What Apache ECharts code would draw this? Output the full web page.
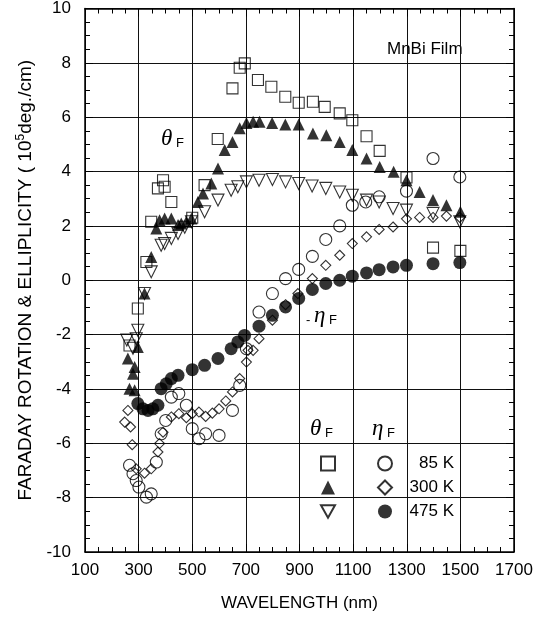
<!DOCTYPE html>
<html>
<head>
<meta charset="utf-8">
<title>MnBi Film Faraday</title>
<script src="https://cdn.jsdelivr.net/npm/echarts@6/dist/echarts.min.js"></script>
</head>
<body style="margin:0">
<div id="chart" style="width:549px;height:623px;"></div>
<script>
// theta_F (rotation), [wavelength nm, 1e5 deg/cm]
var theta85 = [[266,-2.4],[297,-1.04],[329,0.67],[347,2.15],[372,3.38],[391,3.68],[397,3.44],[422,2.88],[500,2.3],[546,3.5],[595,5.2],[650,7.06],[677,7.82],[696,7.98],[745,7.37],[795,7.12],[847,6.75],[897,6.53],[950,6.57],[994,6.38],[1050,6.14],[1097,5.89],[1150,5.3],[1199,4.76],[1299,3.78],[1398,1.2],[1500,1.08]];
var theta300 = [[260,-2.88],[266,-3.99],[279,-3.44],[285,-3.19],[285,-4.05],[297,-2.46],[322,-0.49],[347,0.86],[366,1.9],[378,2.21],[397,2.27],[422,2.27],[447,2.03],[459,2.09],[478,2.15],[497,2.27],[521,2.88],[540,3.19],[571,3.56],[596,4.11],[621,4.79],[650,5.09],[677,5.59],[702,5.79],[727,5.83],[751,5.83],[798,5.79],[847,5.73],[897,5.73],[950,5.4],[1000,5.34],[1050,5.09],[1097,4.79],[1150,4.48],[1199,4.17],[1251,3.99],[1299,3.68],[1348,3.25],[1398,2.95],[1448,2.76],[1500,2.52]];
var theta475 = [[256,-2.2],[279,-2.5],[291,-2.15],[297,-1.84],[322,-0.49],[347,0.31],[384,1.29],[397,1.35],[422,1.54],[447,1.72],[472,1.95],[497,2.15],[546,2.52],[596,2.95],[645,3.31],[670,3.44],[702,3.62],[749,3.68],[799,3.71],[848,3.62],[897,3.56],[947,3.47],[998,3.38],[1050,3.25],[1097,3.13],[1150,2.95],[1197,2.88],[1249,2.64],[1299,2.58],[1398,2.46],[1498,2.15]];
// eta_F (ellipticity); 475 K is plotted as -eta
var eta85 = [[266,-6.81],[279,-7.12],[291,-7.37],[301,-7.61],[329,-7.98],[347,-7.86],[366,-6.69],[384,-5.65],[401,-5.16],[422,-4.3],[450,-4.17],[478,-4.6],[500,-5.46],[525,-5.83],[550,-5.65],[600,-5.71],[650,-4.79],[677,-3.87],[702,-2.52],[749,-1.17],[799,-0.49],[848,0.06],[897,0.4],[948,0.88],[998,1.5],[1050,2.0],[1097,2.76],[1147,2.88],[1197,3.07],[1299,3.28],[1398,4.48],[1498,3.8]];
var eta300 = [[248,-5.22],[260,-4.79],[270,-5.4],[276,-6.05],[291,-6.94],[322,-7.1],[347,-6.94],[372,-6.32],[378,-6.01],[391,-5.59],[422,-5.03],[450,-4.91],[478,-5.06],[500,-4.91],[525,-4.85],[550,-5.01],[575,-4.89],[600,-4.73],[625,-4.44],[650,-4.11],[677,-3.62],[702,-3.01],[708,-2.58],[727,-2.58],[749,-2.15],[799,-1.47],[848,-0.9],[894,-0.49],[948,0.06],[998,0.55],[1050,0.92],[1097,1.35],[1150,1.6],[1197,1.87],[1249,1.96],[1299,2.26],[1348,2.31],[1398,2.31],[1448,2.36],[1498,2.31]];
var eta475 = [[297,-4.54],[316,-4.73],[335,-4.79],[353,-4.73],[372,-4.6],[384,-3.99],[403,-3.81],[422,-3.62],[447,-3.5],[500,-3.29],[546,-3.13],[596,-2.88],[645,-2.52],[670,-2.27],[695,-2.03],[749,-1.69],[799,-1.29],[848,-0.98],[897,-0.67],[948,-0.34],[998,-0.12],[1050,0.0],[1097,0.15],[1150,0.27],[1197,0.39],[1249,0.49],[1299,0.55],[1398,0.61],[1498,0.65]];
var tempLabels = ['85 K', '300 K', '475 K'];

var font = 'Liberation Sans, Arial, sans-serif';
var serif = 'Liberation Serif, Times New Roman, serif';
var black = '#000';
var downTri = 'path://M0,0L20,0L10,18Z';

function axis(pos, main) {
    return {
        type: 'value',
        position: pos,
        axisLine: { show: true, onZero: false, lineStyle: { color: black, width: 1.5 } },
        axisTick: { show: true, inside: true, length: 8, lineStyle: { color: black } },
        minorTick: { show: true, splitNumber: 4, length: 5, lineStyle: { color: black } },
        splitLine: { show: main, lineStyle: { color: '#111', width: 1 } },
        axisLabel: { show: main, color: black, fontSize: 17, fontFamily: font,
            formatter: function (v) { return String(v); } }
    };
}

var xBottom = axis('bottom', true);
xBottom.min = 100; xBottom.max = 1700; xBottom.interval = 200;
xBottom.axisLabel.margin = 10;
xBottom.name = 'WAVELENGTH (nm)';
xBottom.nameLocation = 'middle';
xBottom.nameGap = 43;
xBottom.nameTextStyle = { color: black, fontSize: 17, fontFamily: font };
var xTop = axis('top', false);
xTop.min = 100; xTop.max = 1700; xTop.interval = 200;

var yLeft = axis('left', true);
yLeft.min = -10; yLeft.max = 10; yLeft.interval = 2;
yLeft.axisLabel.margin = 14;
yLeft.name = '{t|FARADAY ROTATION & ELLIPLICITY ( 10}{s|5}{t|deg./cm)}';
yLeft.nameLocation = 'middle';
yLeft.nameGap = 47;
yLeft.nameRotate = 90;
yLeft.nameTextStyle = {
    rich: {
        t: { color: black, fontSize: 19, fontFamily: font },
        s: { color: black, fontSize: 12, fontFamily: font, padding: [0, 0, 10, 0] }
    }
};
var yRight = axis('right', false);
yRight.min = -10; yRight.max = 10; yRight.interval = 2;

function pts(name, data, symbol, size, filled) {
    return {
        name: name,
        type: 'scatter',
        data: data,
        symbol: symbol,
        symbolSize: size,
        itemStyle: filled ? { color: black } : { color: 'rgba(255,255,255,0)', borderColor: black, borderWidth: 1.1 },
        emphasis: { disabled: true }
    };
}

function greek(letter, pre) {
    return {
        text: (pre ? '{s|' + pre + '}' : '') + '{g|' + letter + '}{s| F}',
        rich: { g: { fontSize: 23, fontStyle: 'italic', fontFamily: serif, fill: black, verticalAlign: 'bottom' },
                s: { fontSize: 13, fontFamily: font, fill: black, verticalAlign: 'bottom' } }
    };
}

var chart = echarts.init(document.getElementById('chart'));
chart.setOption({
    backgroundColor: '#fff',
    animation: false,
    grid: { left: 85, top: 8, right: 35, bottom: 71 },
    xAxis: [xBottom, xTop],
    yAxis: [yLeft, yRight],
    legend: [
        {
            data: ['t85', 't300', 't475'],
            orient: 'vertical', left: 315, top: 450, itemGap: 7,
            itemWidth: 14, itemHeight: 14,
            formatter: function () { return ' '; },
            textStyle: { fontSize: 17 },
            selectedMode: false
        },
        {
            data: ['e85', 'e300', 'e475'],
            orient: 'vertical', left: 372, top: 450, itemGap: 7,
            itemWidth: 14, itemHeight: 14,
            formatter: function (n) {
                return '{r|' + tempLabels[['e85', 'e300', 'e475'].indexOf(n)] + '}';
            },
            textStyle: { color: black, fontSize: 17, fontFamily: font,
                rich: { r: { width: 57, align: 'right', fontSize: 17, fontFamily: font, color: black } } },
            selectedMode: false
        }
    ],
    graphic: [
        { type: 'text', left: 387, top: 41, style: { text: 'MnBi Film', fill: black, font: '17px ' + font } },
        { type: 'text', left: 161, top: 127, style: greek('θ') },
        { type: 'text', left: 306, top: 304, style: greek('η', '- ') },
        { type: 'text', left: 310, top: 417, style: greek('θ') },
        { type: 'text', left: 372, top: 417, style: greek('η') }
    ],
    series: [
        pts('t85', theta85, 'rect', 11, false),
        pts('e85', eta85, 'circle', 12, false),
        pts('e300', eta300, 'diamond', 10, false),
        pts('t475', theta475, downTri, 12, false),
        pts('t300', theta300, 'triangle', 12, true),
        pts('e475', eta475, 'circle', 13, true)
    ]
});
</script>
</body>
</html>
